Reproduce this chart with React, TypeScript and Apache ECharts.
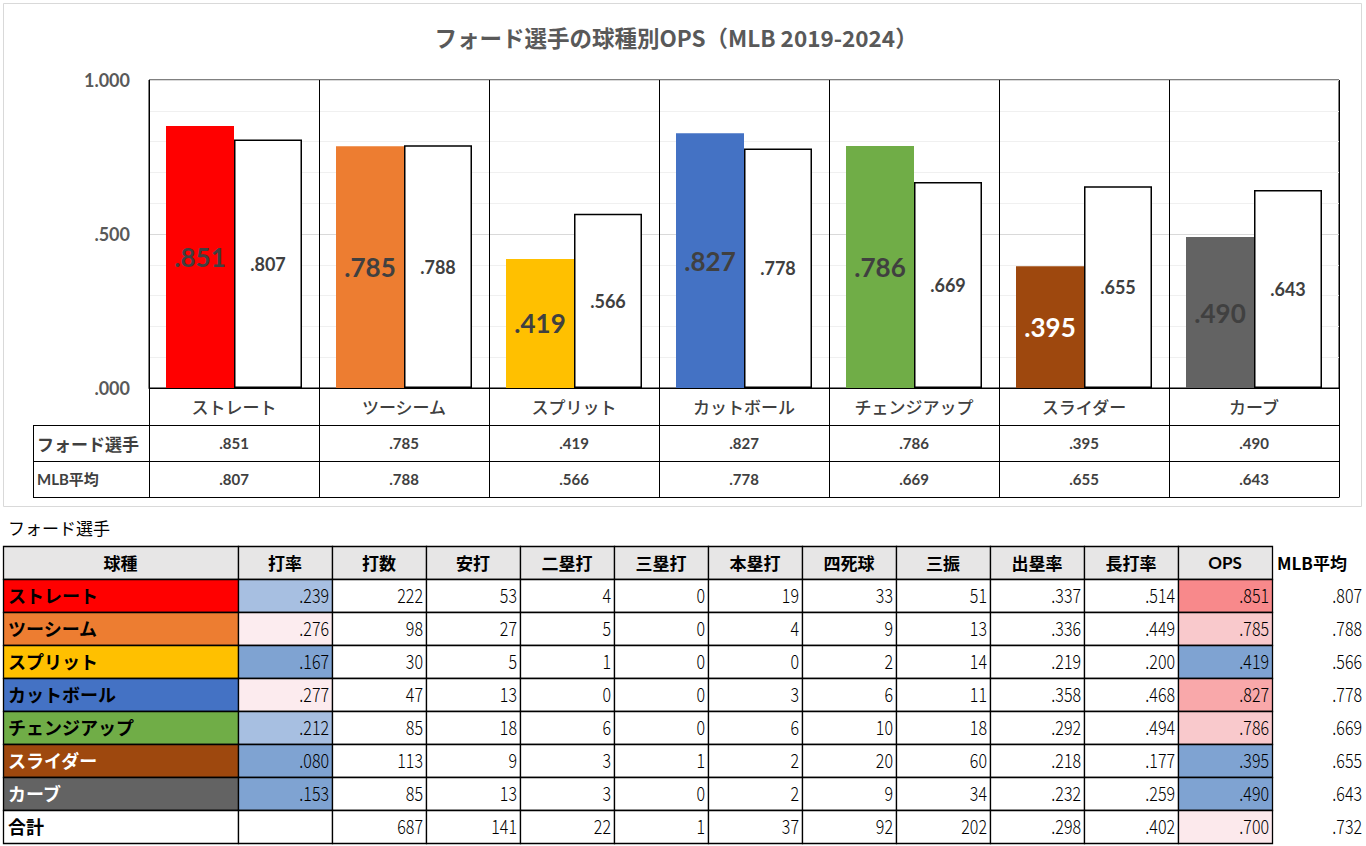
import React, { useEffect, useRef } from "react";
import * as echarts from "echarts";

const TITLE = "フォード選手の球種別OPS（MLB 2019-2024）";
const categories = ["ストレート", "ツーシーム", "スプリット", "カットボール", "チェンジアップ", "スライダー", "カーブ"];
const fordOps = [0.851, 0.785, 0.419, 0.827, 0.786, 0.395, 0.49];
const mlbOps = [0.807, 0.788, 0.566, 0.778, 0.669, 0.655, 0.643];
const seriesNames = ["フォード選手", "MLB平均"];

const tableCaption = "フォード選手";
const tableHeaders = ["球種", "打率", "打数", "安打", "二塁打", "三塁打", "本塁打", "四死球", "三振", "出塁率", "長打率", "OPS"];
const rowLabels = ["ストレート", "ツーシーム", "スプリット", "カットボール", "チェンジアップ", "スライダー", "カーブ", "合計"];
const avgCol: (number | null)[] = [0.239, 0.276, 0.167, 0.277, 0.212, 0.08, 0.153, null];
const abCol = [222, 98, 30, 47, 85, 113, 85, 687];
const hitCol = [53, 27, 5, 13, 18, 9, 13, 141];
const dblCol = [4, 5, 1, 0, 6, 3, 3, 22];
const triCol = [0, 0, 0, 0, 0, 1, 0, 1];
const hrCol = [19, 4, 0, 3, 6, 2, 2, 37];
const bbCol = [33, 9, 2, 6, 10, 20, 9, 92];
const soCol = [51, 13, 14, 11, 18, 60, 34, 202];
const obpCol = [0.337, 0.336, 0.219, 0.358, 0.292, 0.218, 0.232, 0.298];
const slgCol = [0.514, 0.449, 0.2, 0.468, 0.494, 0.177, 0.259, 0.402];
const opsCol = [0.851, 0.785, 0.419, 0.827, 0.786, 0.395, 0.49, 0.7];
const mlbHeader = "MLB平均";
const mlbCol = [0.807, 0.788, 0.566, 0.778, 0.669, 0.655, 0.643, 0.732];

// styles
const pitchColors = ["#FF0000", "#ED7D31", "#FFC000", "#4472C4", "#70AD47", "#9E480E", "#636363"];
const rowFill = [...pitchColors, "#FFFFFF"];
const rowText = ["#000", "#000", "#000", "#000", "#000", "#FFF", "#FFF", "#000"];
const avgFill = ["#A7BFE1", "#FCECEF", "#7FA3D2", "#FCEBEE", "#A7BFE1", "#7FA3D2", "#7FA3D2", "#FFFFFF"];
const opsFill = ["#F8898B", "#F9C9CC", "#7FA3D2", "#F9A8AA", "#F9C9CC", "#7FA3D2", "#7FA3D2", "#FCE9EC"];

const fmt = (v: number) => {
  const s = v.toFixed(3);
  return s.startsWith("0") ? s.slice(1) : s;
};

const JP = '"Noto Sans CJK JP", sans-serif';
const NUM = 'Lato, "Noto Sans CJK JP", sans-serif';

function buildGraphic() {
  const g: any[] = [];
  g.push({
    type: "rect", z: -10, silent: true,
    shape: { x: 3.5, y: 3.5, width: 1358, height: 503 },
    style: { fill: "none", stroke: "#D9D9D9", lineWidth: 1 },
  });
  g.push({
    type: "text", x: 676, y: 37,
    style: { text: TITLE, fill: "#595959", fontSize: 22.5, fontWeight: "bold", fontFamily: JP, align: "center", verticalAlign: "middle" },
  });
  // chart data table lines
  [425.5, 461.5, 497.5].forEach((y) => {
    g.push({ type: "line", shape: { x1: 33, y1: y, x2: 1339.5, y2: y }, style: { stroke: "#000", lineWidth: 1 } });
  });
  g.push({ type: "line", shape: { x1: 33.5, y1: 425, x2: 33.5, y2: 498 }, style: { stroke: "#000", lineWidth: 1 } });
  seriesNames.forEach((n, i) => {
    g.push({
      type: "text", x: 37, y: 443 + i * 36,
      style: { text: n, fill: "#404040", fontSize: i === 0 ? 17 : 15, fontWeight: "bold", fontFamily: i === 0 ? JP : NUM, align: "left", verticalAlign: "middle" },
    });
  });

  // lower table
  g.push({
    type: "text", x: 8, y: 527,
    style: { text: tableCaption, fill: "#000", fontSize: 17, fontFamily: JP, align: "left", verticalAlign: "middle" },
  });
  const colW = [235, 94, 94, 94, 94, 94, 94, 94, 94, 94, 94, 94];
  const left = 3;
  const top = 546;
  const rowH = 33;
  const colX: number[] = [];
  let acc = left;
  colW.forEach((w) => { colX.push(acc); acc += w; });

  tableHeaders.forEach((h, c) => {
    g.push({
      type: "rect", shape: { x: colX[c] + 0.5, y: top + 0.5, width: colW[c], height: rowH },
      style: { fill: "#E7E6E6", stroke: "#000", lineWidth: 1.3 },
    });
    g.push({
      type: "text", x: colX[c] + colW[c] / 2, y: top + rowH / 2,
      style: { text: h, fill: "#000", fontSize: 17, fontWeight: "bold", fontFamily: h === "OPS" ? NUM : JP, align: "center", verticalAlign: "middle" },
    });
  });
  g.push({
    type: "text", x: 1277, y: top + rowH / 2,
    style: { text: mlbHeader, fill: "#000", fontSize: 17, fontWeight: "bold", fontFamily: JP, align: "left", verticalAlign: "middle" },
  });

  const cols: ((number | null)[] | number[])[] = [avgCol, abCol, hitCol, dblCol, triCol, hrCol, bbCol, soCol, obpCol, slgCol, opsCol];
  const isRate = [true, false, false, false, false, false, false, false, true, true, true];
  rowLabels.forEach((lab, r) => {
    const y = top + rowH * (r + 1);
    const cy = y + rowH / 2 - 1;
    g.push({
      type: "rect", shape: { x: colX[0] + 0.5, y: y + 0.5, width: colW[0], height: rowH },
      style: { fill: rowFill[r], stroke: "#000", lineWidth: 1.3 },
    });
    g.push({
      type: "text", x: colX[0] + 5, y: cy,
      style: { text: lab, fill: rowText[r], fontSize: 18, fontWeight: "bold", fontFamily: JP, align: "left", verticalAlign: "middle" },
    });
    cols.forEach((arr, k) => {
      const c = k + 1;
      const fill = k === 0 ? avgFill[r] : k === 10 ? opsFill[r] : "#FFFFFF";
      g.push({
        type: "rect", shape: { x: colX[c] + 0.5, y: y + 0.5, width: colW[c], height: rowH },
        style: { fill, stroke: "#000", lineWidth: 1.3 },
      });
      const v = arr[r];
      if (v !== null && v !== undefined) {
        g.push({
          type: "text", x: colX[c] + colW[c] - 3, y: cy, scaleX: 0.8,
          style: { text: isRate[k] ? fmt(v as number) : String(v), fill: "#000", fontSize: 20, fontWeight: 300, fontFamily: JP, align: "right", verticalAlign: "middle" },
        });
      }
    });
    g.push({
      type: "text", x: 1362, y: cy, scaleX: 0.8,
      style: { text: fmt(mlbCol[r]), fill: "#000", fontSize: 20, fontWeight: 300, fontFamily: JP, align: "right", verticalAlign: "middle" },
    });
  });
  return g;
}

export default function App() {
  const ref = useRef<HTMLDivElement>(null);
  useEffect(() => {
    if (!ref.current) return;
    const chart = echarts.init(ref.current, null, { renderer: "svg" });
    chart.setOption({
      animation: false,
      backgroundColor: "#FFFFFF",
      grid: { left: 149, top: 80, width: 1190, height: 308, show: true, borderColor: "#000", borderWidth: 1, backgroundColor: "transparent" },
      xAxis: {
        type: "category",
        data: categories,
        axisLine: { show: true, lineStyle: { color: "#000", width: 1 } },
        axisTick: { show: true, interval: 0, length: 109, lineStyle: { color: "#000", width: 1 } },
        splitLine: { show: true, interval: 0, lineStyle: { color: "#000", width: 1 } },
        axisLabel: {
          interval: 0,
          margin: 0,
          formatter: (v: string, i: number) => `{c|${v}}\n{a|${fmt(fordOps[i])}}\n{b|${fmt(mlbOps[i])}}`,
          rich: {
            c: { fontSize: 17, lineHeight: 36, color: "#404040", fontFamily: JP, fontWeight: 500 },
            a: { fontSize: 15, lineHeight: 37, color: "#404040", fontWeight: "bold", fontFamily: NUM },
            b: { fontSize: 15, lineHeight: 36, color: "#404040", fontWeight: "bold", fontFamily: NUM },
          },
        },
      },
      yAxis: {
        type: "value",
        min: 0,
        max: 1,
        interval: 0.5,
        axisLine: { show: false },
        axisTick: { show: false },
        axisLabel: { formatter: (v: number) => fmt(v), fontSize: 18, fontWeight: "bold", color: "#595959", margin: 19, fontFamily: NUM },
        splitLine: { show: true, lineStyle: { color: "#D9D9D9", width: 1 } },
        minorTick: { show: false, splitNumber: 5 },
        minorSplitLine: { show: true, lineStyle: { color: "#F0F0F0", width: 1 } },
      },
      series: [
        {
          name: seriesNames[0],
          type: "bar",
          barWidth: 68,
          barGap: "0%",
          data: fordOps.map((v, i) => ({
            value: v,
            itemStyle: { color: pitchColors[i] },
            label: i === 5 ? { color: "#FFFFFF" } : undefined,
          })),
          label: {
            show: true, position: "inside", formatter: (p: any) => fmt(p.value),
            fontSize: 26, fontWeight: "bold", color: "#404040", fontFamily: NUM,
          },
        },
        {
          name: seriesNames[1],
          type: "bar",
          barWidth: 68,
          barGap: "0%",
          data: mlbOps,
          itemStyle: { color: "#FFFFFF", borderColor: "#000", borderWidth: 1.5 },
          label: {
            show: true, position: "inside", formatter: (p: any) => fmt(p.value),
            fontSize: 18, fontWeight: "bold", color: "#404040", fontFamily: NUM,
          },
        },
      ],
      graphic: buildGraphic(),
    });
    return () => chart.dispose();
  }, []);
  return (
    <div
      ref={ref}
      style={{ position: "fixed", left: 0, top: 0, width: 1366, height: 846, background: "#fff" }}
    />
  );
}
